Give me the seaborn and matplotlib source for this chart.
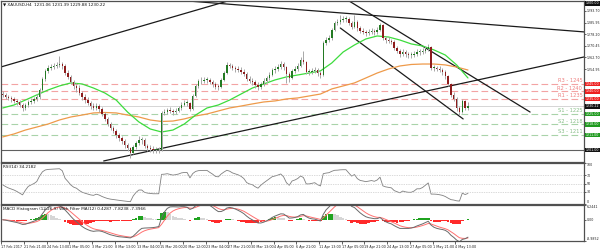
import numpy as np
import pandas as pd
import matplotlib
matplotlib.use("Agg")
import matplotlib.pyplot as plt
import seaborn as sns
from matplotlib.transforms import blended_transform_factory as btf

# ---------------- data ----------------
first_open = 1238.5
closes = [
    1237.7, 1236.5, 1235.5, 1234.7, 1233.9, 1232.7, 1231.0, 1229.0,
    1231.0, 1233.0, 1233.9, 1234.7, 1236.0, 1241.0, 1248.3, 1253.7,
    1255.7, 1256.3, 1257.0, 1257.7, 1258.0, 1257.0, 1252.3, 1249.7,
    1246.3, 1243.7, 1242.3, 1239.0, 1236.0, 1234.0, 1232.3, 1230.3,
    1229.3, 1230.0, 1228.3, 1225.0, 1221.7, 1218.3, 1215.7, 1213.7,
    1211.0, 1208.7, 1207.0, 1204.3, 1202.0, 1199.3, 1203.0, 1205.7,
    1207.7, 1207.7, 1203.7, 1202.3, 1201.7, 1201.0, 1201.0, 1201.0,
    1225.7, 1226.3, 1227.7, 1227.0, 1226.3, 1227.3, 1228.7, 1231.3,
    1232.3, 1232.3, 1228.3, 1237.0, 1243.7, 1246.7, 1247.3, 1247.7,
    1247.7, 1246.3, 1245.0, 1243.3, 1243.0, 1247.7, 1252.3, 1257.7,
    1257.0, 1255.7, 1255.0, 1254.3, 1253.3, 1251.7, 1248.3, 1247.0,
    1246.3, 1244.3, 1242.7, 1245.0, 1247.0, 1249.0, 1251.3, 1254.0,
    1255.0, 1256.3, 1258.0, 1256.3, 1251.7, 1249.0, 1253.7, 1255.0,
    1257.0, 1261.0, 1259.7, 1253.0, 1253.0, 1253.7, 1254.3, 1252.3,
    1251.0, 1272.3, 1274.3, 1275.7, 1281.0, 1285.7, 1286.3, 1287.7,
    1288.3, 1288.3, 1285.7, 1283.0, 1286.3, 1282.3, 1280.3, 1279.7,
    1279.0, 1279.7, 1280.3, 1279.7, 1281.0, 1284.3, 1275.7, 1274.3,
    1273.7, 1273.0, 1269.0, 1267.0, 1265.0, 1266.3, 1265.0, 1264.3,
    1264.3, 1265.0, 1266.3, 1266.3, 1267.0, 1268.3, 1269.7, 1255.7,
    1255.7, 1255.3, 1254.3, 1253.0, 1250.3, 1245.0, 1237.7, 1235.0,
    1229.0, 1226.3, 1233.7, 1229.0, 1230.2]
highs = [
    1240.0, 1238.8, 1237.6, 1237.0, 1236.2, 1235.0, 1234.0, 1232.2,
    1232.5, 1234.6, 1235.8, 1236.4, 1238.1, 1242.5, 1249.6, 1255.2,
    1257.5, 1258.4, 1258.9, 1259.6, 1263.5, 1259.8, 1258.0, 1254.0,
    1251.2, 1247.8, 1245.9, 1244.0, 1240.3, 1238.1, 1236.0, 1233.8,
    1232.4, 1232.0, 1231.4, 1229.5, 1226.4, 1223.0, 1219.9, 1217.2,
    1215.1, 1212.5, 1210.3, 1208.4, 1205.7, 1203.2, 1204.4, 1207.3,
    1210.5, 1209.6, 1208.8, 1205.2, 1204.0, 1203.5, 1202.8, 1203.1,
    1227.0, 1228.6, 1229.3, 1229.4, 1228.5, 1229.1, 1230.4, 1233.0,
    1234.5, 1234.2, 1233.3, 1238.4, 1245.1, 1248.2, 1249.4, 1249.8,
    1249.5, 1249.0, 1247.6, 1246.5, 1245.2, 1249.0, 1253.6, 1259.5,
    1259.2, 1258.6, 1257.3, 1256.9, 1256.0, 1255.0, 1252.9, 1250.1,
    1248.8, 1247.5, 1246.0, 1246.6, 1248.7, 1250.6, 1253.2, 1255.6,
    1257.1, 1258.2, 1260.4, 1259.5, 1257.2, 1253.0, 1255.1, 1256.8,
    1258.9, 1262.7, 1266.8, 1260.6, 1255.0, 1255.6, 1256.1, 1255.5,
    1253.8, 1273.6, 1276.0, 1277.6, 1282.5, 1287.2, 1288.3, 1291.2,
    1290.0, 1290.2, 1289.4, 1286.9, 1291.0, 1287.4, 1283.9, 1282.0,
    1281.2, 1281.5, 1282.1, 1281.9, 1282.8, 1285.9, 1285.0, 1277.2,
    1276.4, 1275.3, 1274.2, 1270.6, 1268.5, 1268.0, 1267.7, 1266.6,
    1266.2, 1266.9, 1268.2, 1268.1, 1268.8, 1270.0, 1271.4, 1270.5,
    1257.6, 1257.2, 1256.8, 1255.6, 1254.1, 1251.2, 1245.9, 1239.6,
    1236.2, 1230.2, 1235.0, 1234.6, 1233.0]
lows = [
    1236.5, 1235.2, 1234.3, 1233.2, 1232.1, 1231.0, 1229.5, 1226.8,
    1227.9, 1229.8, 1231.9, 1232.6, 1233.5, 1235.1, 1240.2, 1247.0,
    1252.4, 1254.1, 1254.8, 1255.6, 1256.0, 1255.1, 1250.8, 1248.2,
    1244.7, 1241.6, 1239.7, 1237.5, 1234.6, 1232.5, 1230.8, 1228.6,
    1227.4, 1227.8, 1226.1, 1223.7, 1220.0, 1216.9, 1214.0, 1212.0,
    1209.2, 1207.0, 1205.2, 1202.6, 1200.1, 1195.8, 1198.1, 1201.8,
    1204.6, 1205.3, 1202.1, 1200.4, 1199.8, 1198.9, 1198.7, 1199.2,
    1200.2, 1224.2, 1225.0, 1225.4, 1224.6, 1225.0, 1226.2, 1227.9,
    1230.0, 1230.4, 1226.9, 1227.5, 1236.2, 1242.5, 1245.2, 1245.6,
    1245.8, 1244.7, 1243.2, 1241.8, 1241.1, 1242.2, 1246.8, 1251.5,
    1255.4, 1254.0, 1253.2, 1252.8, 1251.6, 1250.0, 1246.7, 1245.4,
    1244.5, 1242.6, 1240.8, 1241.4, 1243.8, 1245.9, 1247.7, 1250.2,
    1252.6, 1253.8, 1255.0, 1254.6, 1245.8, 1246.6, 1248.0, 1252.4,
    1253.9, 1256.1, 1258.0, 1251.7, 1251.2, 1251.8, 1252.4, 1250.6,
    1249.3, 1250.2, 1270.8, 1272.9, 1274.6, 1280.0, 1284.2, 1285.0,
    1286.1, 1286.4, 1284.0, 1281.5, 1282.2, 1280.6, 1278.7, 1278.0,
    1277.2, 1277.6, 1278.3, 1277.9, 1278.4, 1280.1, 1274.2, 1272.6,
    1272.0, 1271.4, 1267.5, 1265.4, 1263.2, 1263.8, 1263.3, 1262.6,
    1262.5, 1263.0, 1263.8, 1264.6, 1265.0, 1265.9, 1267.1, 1254.4,
    1253.8, 1253.6, 1252.7, 1251.2, 1248.6, 1243.4, 1236.2, 1233.4,
    1227.3, 1224.0, 1225.6, 1227.5, 1227.6]

ma_step = 4
green_ma = [1229.0, 1231.0, 1234.3, 1237.7, 1241.0, 1243.7, 1245.7, 1245.0,
            1242.3, 1239.0, 1234.3, 1226.3, 1219.7, 1215.0, 1213.0, 1214.3,
            1218.3, 1224.3, 1229.0, 1231.0, 1234.3, 1238.3, 1242.3, 1245.0,
            1247.7, 1249.7, 1251.0, 1252.3, 1253.7, 1259.0, 1266.3, 1271.0,
            1275.0, 1277.0, 1276.3, 1274.3, 1271.7, 1270.3, 1267.7, 1264.3,
            1257.7, 1249.0]
orange_ma = [1209.7, 1211.7, 1214.3, 1216.3, 1218.3, 1221.0, 1223.0, 1224.3,
             1225.7, 1226.0, 1225.7, 1224.3, 1223.0, 1221.0, 1220.0, 1220.3,
             1221.7, 1223.7, 1225.0, 1227.0, 1229.0, 1230.3, 1231.7, 1233.0,
             1233.7, 1235.0, 1235.7, 1237.0, 1238.3, 1241.7, 1243.7, 1245.7,
             1249.0, 1252.3, 1255.0, 1257.0, 1258.0, 1258.3, 1258.3, 1257.7,
             1256.3, 1254.3]

date_labels = ["17 Feb 2017", "21 Feb 21:00", "24 Feb 13:00", "1 Mar 05:00",
               "3 Mar 21:00", "8 Mar 13:00", "13 Mar 04:00", "15 Mar 20:00",
               "20 Mar 12:00", "23 Mar 04:00", "27 Mar 21:00", "30 Mar 13:00",
               "4 Apr 05:00", "6 Apr 21:00", "11 Apr 13:00", "17 Apr 05:00",
               "19 Apr 21:00", "24 Apr 13:00", "27 Apr 05:00", "1 May 21:00",
               "4 May 13:00"]
candles_per_label = 8

res_names = ["R3 - 1245", "R2 - 1240", "R1 - 1235"]
res_levels = [1245.0, 1240.0, 1235.0]
sup_names = ["S1 - 1225", "S2 - 1218", "S3 - 1211"]
sup_levels = [1225.0, 1218.0, 1211.0]
last_price = 1230.22
base_level = 1201.0

# trend lines: (candle index start, price start, candle index end, price end)
trend_x0 = [-0.7, 35.6, 60.6, 121.5, 119.0]
trend_p0 = [1256.3, 1193.7, 1301.0, 1301.0, 1282.3]
trend_x1 = [80.6, 204.9, 204.9, 185.9, 162.3]
trend_p1 = [1301.0, 1263.0, 1279.7, 1226.3, 1221.7]

price_ticks = [1293.70, 1285.95, 1278.20, 1270.45, 1262.70, 1254.95]

# ---------------- figure ----------------
sns.set_theme(style="white")
plt.rcParams["font.family"] = ["DejaVu Sans"]

fig = plt.figure(figsize=(6, 2.5), dpi=100)
L, R = 1 / 600, 584 / 600
ax = fig.add_axes([L, 1 - 162 / 250, R - L, 161 / 250])
ax_rsi = fig.add_axes([L, 1 - 204 / 250, R - L, 41 / 250], sharex=ax)
ax_macd = fig.add_axes([L, 1 - 241 / 250, R - L, 36 / 250], sharex=ax)

n = len(closes)
idx = np.arange(n)
opens = [first_open] + closes[:-1]
df = pd.DataFrame({"i": idx, "o": opens, "h": highs, "l": lows, "c": closes})
up = df["c"] >= df["o"]

XMAX = 204.9
LAB = 2.35
for a in (ax, ax_rsi, ax_macd):
    a.set_facecolor("white")
    for s in a.spines.values():
        s.set_color("#505050")
        s.set_linewidth(0.9)
    a.set_xlim(-0.6, XMAX)

# horizontal levels
for lev, name in zip(res_levels, res_names):
    ax.axhline(lev, color="#f3a3a3", lw=0.8, ls=(0, (6, 3)), zorder=1)
    ax.text(0.997, lev + 0.5, name, transform=btf(ax.transAxes, ax.transData),
            ha="right", va="bottom", fontsize=3.7, color="#ee7f7f")
for lev, name in zip(sup_levels, sup_names):
    ax.axhline(lev, color="#a9d3a9", lw=0.8, ls=(0, (6, 3)), zorder=1)
    ax.text(0.997, lev + 0.5, name, transform=btf(ax.transAxes, ax.transData),
            ha="right", va="bottom", fontsize=3.7, color="#86bd86")
ax.axhline(last_price, color="#cfcfcf", lw=0.6, zorder=1)
ax.axhline(base_level, color="#606060", lw=0.8, zorder=1)

# trend lines
for x0, p0, x1, p1 in zip(trend_x0, trend_p0, trend_x1, trend_p1):
    ax.plot([x0, x1], [p0, p1], color="#1a1a1a", lw=0.9, zorder=2)

# moving averages
ma_x = np.arange(0, n, ma_step)
sns.lineplot(x=ma_x, y=orange_ma, ax=ax, color="#ee9a4a", lw=0.9, zorder=3)
sns.lineplot(x=ma_x, y=green_ma, ax=ax, color="#3ddc3d", lw=0.9, zorder=3)

# candles
ax.vlines(df["i"], df["l"], df["h"], color="#a8a8a8", lw=0.7, zorder=4)
body = (df["c"] - df["o"]).abs().clip(lower=0.4)
ax.bar(df["i"], body, bottom=np.minimum(df["o"], df["c"]), width=0.5,
       color=np.where(up, "#237a23", "#8e1d1d"), linewidth=0, zorder=5)

ax.set_ylim(1193.0, 1300.3)
ax.yaxis.tick_right()
ax.set_yticks(price_ticks)
ax.set_yticklabels([f"{v:.2f}" for v in price_ticks])
ax.tick_params(axis="y", labelsize=LAB, length=1.2, width=0.5, pad=0.6, colors="#222222")
ax.tick_params(axis="x", length=0, labelbottom=False)

tr = btf(ax.transAxes, ax.transData)
box_kw = dict(transform=tr, ha="left", va="center", fontsize=LAB, color="white", clip_on=False)
for lev in res_levels:
    ax.text(1.003, lev, f"{lev:.2f}", bbox=dict(fc="#ee2020", ec="none", pad=0.3), **box_kw)
for lev in sup_levels:
    ax.text(1.003, lev, f"{lev:.2f}", bbox=dict(fc="#1f9a1f", ec="none", pad=0.3), **box_kw)
ax.text(1.003, last_price, f"{last_price:.2f}", bbox=dict(fc="#111111", ec="none", pad=0.3), **box_kw)
ax.text(1.003, base_level, f"{base_level:.2f}", bbox=dict(fc="#111111", ec="none", pad=0.3), **box_kw)
ax.text(1.003, 1298.8, "1300.00", bbox=dict(fc="#111111", ec="none", pad=0.3), **box_kw)

ax.text(0.004, 0.99, "\u25bc XAUUSD,H4  1231.06 1231.39 1229.88 1230.22",
        transform=ax.transAxes, ha="left", va="top", fontsize=3, color="#111111")

# ---------------- RSI ----------------
chg = np.array(closes) - np.array(opens)
period = 10
g_avg = l_avg = np.mean(np.abs(chg[:period])) / 2
rsi = []
for ch in chg:
    g_avg = (g_avg * (period - 1) + max(ch, 0)) / period
    l_avg = (l_avg * (period - 1) + max(-ch, 0)) / period
    rsi.append(100 - 100 / (1 + g_avg / l_avg))
sns.lineplot(x=idx, y=rsi, ax=ax_rsi, color="#808080", lw=0.6)
for lv in (30, 50, 70):
    ax_rsi.axhline(lv, color="#b5b5b5", lw=0.5, ls=(0, (1, 1.5)))
ax_rsi.set_ylim(0, 100)
ax_rsi.yaxis.tick_right()
ax_rsi.set_yticks([100, 70, 50, 30, 0])
ax_rsi.set_yticklabels(["100", "70", "50", "30", "0"])
ax_rsi.tick_params(axis="y", labelsize=LAB, length=1.2, width=0.5, pad=0.6, colors="#222222")
ax_rsi.tick_params(axis="x", length=0, labelbottom=False)
rl = ax_rsi.get_yticklabels()
rl[0].set_verticalalignment("top")
rl[-1].set_verticalalignment("bottom")
ax_rsi.text(0.004, 0.95, "RSI(14) 34.2182", transform=ax_rsi.transAxes,
            ha="left", va="top", fontsize=3, color="#111111")

# ---------------- MACD ----------------
cs = pd.Series(closes)
macd = cs.ewm(span=6, adjust=False).mean() - cs.ewm(span=13, adjust=False).mean()
signal = macd.ewm(span=5, adjust=False).mean()
hist = macd - signal
prev = hist.shift(1).fillna(0)
hcol = np.where(hist >= 0, np.where(hist >= prev, "#1fa31f", "#d6d6d6"), "#ff2a2a")
ax_macd.bar(idx, hist, width=0.95, color=hcol, linewidth=0)
sns.lineplot(x=idx, y=signal.values, ax=ax_macd, color="#ff7070", lw=0.7)
sns.lineplot(x=idx, y=macd.values, ax=ax_macd, color="#6a6a6a", lw=0.7)
ax_macd.set_ylim(-8.9852, 6.2441)
ax_macd.yaxis.tick_right()
ax_macd.set_yticks([6.2441, 0.0, -8.9852])
ax_macd.set_yticklabels(["6.2441", "0.00", "-8.9852"])
ax_macd.tick_params(axis="y", labelsize=LAB, length=1.2, width=0.5, pad=0.6, colors="#222222")
ml = ax_macd.get_yticklabels()
ml[0].set_verticalalignment("top")
ml[-1].set_verticalalignment("bottom")
ax_macd.text(0.004, 0.95, "MACD Histogram (12,26,9) With Filter MA(12) 0.4287 -7.8238 -7.3966",
             transform=ax_macd.transAxes, ha="left", va="top", fontsize=3, color="#111111")

tick_pos = [k * candles_per_label - 0.5 for k in range(len(date_labels))]
ax_macd.set_xticks(tick_pos)
ax_macd.set_xticklabels(date_labels)
ax_macd.tick_params(axis="x", labelsize=2.4, length=2.5, width=0.5, pad=0.5,
                    colors="#222222", direction="out", bottom=True)
for lab in ax_macd.get_xticklabels():
    lab.set_horizontalalignment("left")

fig.savefig("out.png", dpi=100, facecolor="white")
